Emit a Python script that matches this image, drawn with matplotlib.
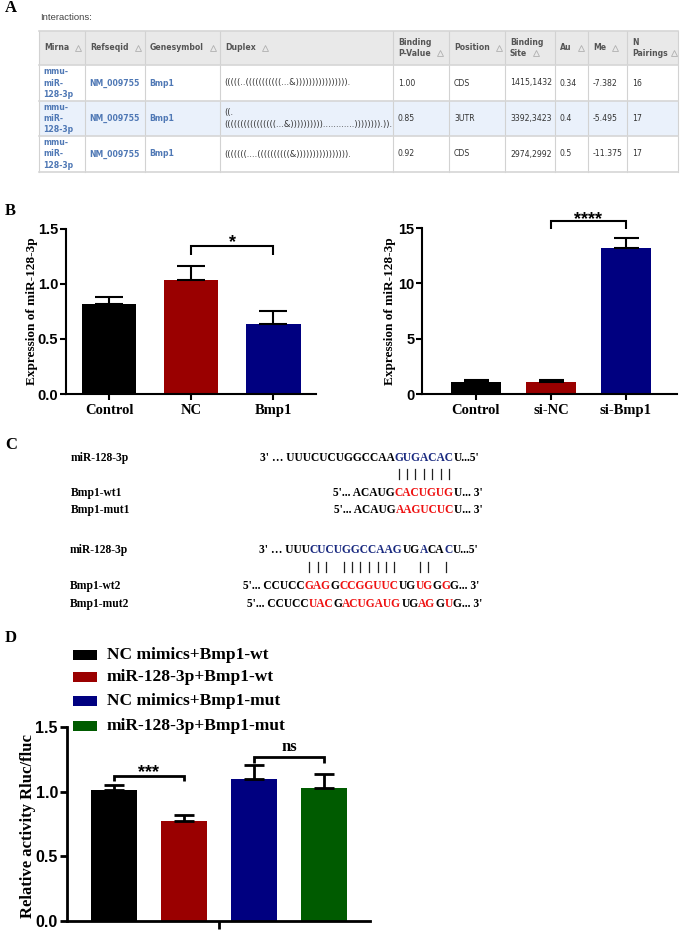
import matplotlib.pyplot as plt
import numpy as np
from matplotlib.patches import Rectangle
from matplotlib.lines import Line2D
from matplotlib.font_manager import FontProperties

W, H = 685, 930

# ---- panel A: miRWalk table
tbl_header = ['Mirna', 'Refseqid', 'Genesymbol', 'Duplex', 'Binding\nP-Value', 'Position',
              'Binding\nSite', 'Au', 'Me', 'N\nPairings']
tbl_mirna = ['mmu-\nmiR-\n128-3p'] * 3
tbl_refseq = ['NM_009755'] * 3
tbl_gene = ['Bmp1'] * 3
tbl_duplex = ['(((((..(((((((((((...&)))))))))))))))).',
              '((.\n((((((((((((((((...&))))))))))............)))))))).)).',
              '(((((((....((((((((((&)))))))))))))))).']
tbl_pval = ['1.00', '0.85', '0.92']
tbl_pos = ['CDS', '3UTR', 'CDS']
tbl_site = ['1415,1432', '3392,3423', '2974,2992']
tbl_au = ['0.34', '0.4', '0.5']
tbl_me = ['-7.382', '-5.495', '-11.375']
tbl_npair = ['16', '17', '17']

# ---- panel B: qPCR
b1_groups = ['Control', 'NC', 'Bmp1']
b1_mean = [0.82, 1.035, 0.64]
b1_err = [0.06, 0.125, 0.11]
b2_groups = ['Control', 'si-NC', 'si-Bmp1']
b2_mean = [1.11, 1.05, 13.15]
b2_err = [0.2, 0.2, 0.95]

# ---- panel D: luciferase
d_groups = ['NC mimics+Bmp1-wt', 'miR-128-3p+Bmp1-wt', 'NC mimics+Bmp1-mut', 'miR-128-3p+Bmp1-mut']
d_mean = [1.015, 0.777, 1.10, 1.03]
d_err = [0.035, 0.045, 0.105, 0.105]

colors = ['#000000', '#9a0000', '#000080', '#005b00']
seq_blue = '#1a2a80'
seq_red = '#ee1111'

fig = plt.figure(figsize=(W / 100, H / 100), dpi=100)
renderer = fig.canvas.get_renderer()


def fx(x):
    return x / W


def fy(y):
    return 1 - y / H


def ftext(x, y, s, **kw):
    return fig.text(fx(x), fy(y), s, **kw)


def fline(xs, ys, **kw):
    fig.add_artist(Line2D([fx(x) for x in xs], [fy(y) for y in ys], transform=fig.transFigure, **kw))


def frect(x0, y0, x1, y1, **kw):
    fig.add_artist(Rectangle((fx(x0), fy(y1)), (x1 - x0) / W, (y1 - y0) / H,
                             transform=fig.transFigure, **kw))


def tw(s, fp):
    w, h, d = renderer.get_text_width_height_descent(s, fp, ismath=False)
    return w


panel_fp = dict(family='Liberation Serif', weight='bold', size=12)
ftext(5, 8, 'A', va='center', **panel_fp)
ftext(5, 211, 'B', va='center', **panel_fp)
ftext(5, 445, 'C', va='center', **panel_fp)
ftext(5, 638, 'D', va='center', **panel_fp)

# ---------------- A
ftext(40, 17, 'Interactions:', va='center', family='Liberation Sans', size=6.8, color='#444444')

col_x = [39, 85, 145, 220, 393, 449, 505, 555, 588, 627, 678]
row_y = [31, 65, 101, 136, 172]
frect(col_x[0], row_y[0], col_x[-1], row_y[1], facecolor='#e9e9e9', edgecolor='none')
frect(col_x[0], row_y[2], col_x[-1], row_y[3], facecolor='#eaf1fb', edgecolor='none')
for x in col_x:
    fline([x, x], [row_y[0], row_y[-1]], color='#d2d2d2', lw=0.8)
for y in row_y:
    fline([col_x[0], col_x[-1]], [y, y], color='#d6d6d6', lw=1.2)

hdr_fp = FontProperties(family='DejaVu Sans', weight='bold', size=5.6)
body_fp = FontProperties(family='DejaVu Sans', size=5.6)
dup_fp = FontProperties(family='DejaVu Sans', size=6.0)
hdr_mid = (row_y[0] + row_y[1]) / 2
for i, h in enumerate(tbl_header):
    x = col_x[i] + 5
    ftext(x, hdr_mid, h, va='center', ha='left', fontproperties=hdr_fp, color='#555555', linespacing=1.25)
    last = h.split('\n')[-1]
    ya = hdr_mid + (5 if '\n' in h else 0)
    xa = min(x + tw(last, hdr_fp) + 9, col_x[i + 1] - 4)
    fline([xa], [ya], marker='^', markersize=4, mfc='none', mec='#b0b0b0', mew=0.6, lw=0)

columns = [tbl_mirna, tbl_refseq, tbl_gene, tbl_duplex, tbl_pval, tbl_pos, tbl_site, tbl_au, tbl_me, tbl_npair]
for c, col in enumerate(columns):
    for r, val in enumerate(col):
        yc = (row_y[r + 1] + row_y[r + 2]) / 2
        if c < 3:
            ftext(col_x[c] + 4, yc, val, va='center', fontproperties=hdr_fp, color='#4f78b5', linespacing=1.3)
        elif c == 3:
            ftext(col_x[c] + 4, yc, val, va='center', fontproperties=dup_fp, color='#333333', linespacing=1.3)
        else:
            ftext(col_x[c] + 5, yc, val, va='center', fontproperties=body_fp, color='#333333')


# ---------------- B
def panel_ax(left, top, right, bottom):
    return fig.add_axes([fx(left), fy(bottom), (right - left) / W, (bottom - top) / H])


def style(ax, lw, size):
    for s in ['top', 'right']:
        ax.spines[s].set_visible(False)
    for s in ['left', 'bottom']:
        ax.spines[s].set_linewidth(lw)
    ax.tick_params(width=lw, length=4, pad=3)
    ax.tick_params(axis='y', pad=1.5)
    for t in ax.get_yticklabels():
        t.set_fontproperties(FontProperties(family='Liberation Sans', weight='bold', size=size))


def bracket(ax, x1, x2, y, tip, lw):
    ax.plot([x1, x1, x2, x2], [y - tip, y, y, y - tip], color='k', lw=lw, clip_on=False,
            solid_capstyle='butt', solid_joinstyle='miter')


def stars(ax, x, y, s, size=13):
    ax.annotate(s, xy=(x, y), xytext=(0, -7.5), textcoords='offset points', ha='center', va='baseline',
                family='Liberation Sans', weight='bold', size=size, annotation_clip=False)


xlab_fp = dict(family='Liberation Serif', weight='bold', size=10.5)
ylab_fp = dict(family='Liberation Serif', weight='bold', size=9.5)

ax1 = panel_ax(66, 229, 316, 394)
x1 = np.arange(len(b1_groups))
ax1.bar(x1, b1_mean, width=0.66, color=colors[:3])
ax1.errorbar(x1, b1_mean, yerr=[np.zeros(3), b1_err], fmt='none', ecolor='k', elinewidth=1.5,
             capsize=10, capthick=1.5)
bracket(ax1, 1, 2, 1.345, 0.08, 1.5)
stars(ax1, 1.5, 1.43, '*')
ax1.set_xlim(-0.523, 2.517)
ax1.set_ylim(0, 1.5)
ax1.set_yticks([0, 0.5, 1.0, 1.5])
ax1.set_yticklabels(['0.0', '0.5', '1.0', '1.5'])
ax1.set_xticks(x1)
ax1.set_xticklabels(b1_groups, **xlab_fp)
ax1.set_ylabel('Expression of miR-128-3p', va='center', **ylab_fp)
ax1.yaxis.set_label_coords(-0.135, 0.5)
style(ax1, 1.5, 10.5)

ax2 = panel_ax(422, 228, 677, 394)
x2 = np.arange(len(b2_groups))
ax2.bar(x2, b2_mean, width=0.667, color=colors[:3])
ax2.errorbar(x2, b2_mean, yerr=[np.zeros(3), b2_err], fmt='none', ecolor='k', elinewidth=1.5,
             capsize=9, capthick=1.5)
bracket(ax2, 1, 2, 15.6, 0.7, 1.5)
stars(ax2, 1.5, 16.3, '****')
ax2.set_xlim(-0.72, 2.68)
ax2.set_ylim(0, 15)
ax2.set_yticks([0, 5, 10, 15])
ax2.set_xticks(x2)
ax2.set_xticklabels(b2_groups, **xlab_fp)
ax2.set_ylabel('Expression of miR-128-3p', va='center', **ylab_fp)
ax2.yaxis.set_label_coords(-0.125, 0.5)
style(ax2, 1.5, 10.5)

# ---------------- C
seq_fp = FontProperties(family='Liberation Serif', weight='bold', size=8.3)


def seq_line(x0, yc, parts):
    full = ''.join(p for p, c in parts)
    yb = yc + 3.7
    pos = 0
    for p, c in parts:
        pos += len(p)
        ftext(x0 + tw(full[:pos], seq_fp), yb, p, color=c, fontproperties=seq_fp, ha='right', va='baseline')
    return [x0 + tw(full[:i + 1], seq_fp) - tw(full[i], seq_fp) / 2 for i in range(len(full))]


def label(x, yc, s):
    ftext(x, yc + 3.7, s, fontproperties=seq_fp, va='baseline')


k = 'black'
label(71, 457, 'miR-128-3p')
seq_line(260, 457, [("3' \u2026 UUUCUCUGGCCAA", k), ('GUGACAC', seq_blue), ('U...5\'', k)])
label(71, 492, 'Bmp1-wt1')
wt1_parts = [("5'... ACAUG", k), ('CACUGUG', seq_red), ("U... 3'", k)]
cx = seq_line(333, 492, wt1_parts)
label(71, 509, 'Bmp1-mut1')
seq_line(334, 509, [("5'... ACAUG", k), ('AAGUCUC', seq_red), ("U... 3'", k)])
start = len(wt1_parts[0][0])
for i in range(start, start + 7):
    fline([cx[i], cx[i]], [469, 479], color='#222222', lw=0.9)

label(70, 549, 'miR-128-3p')
seq_line(259, 549, [("3' \u2026 UUU", k), ('CUCUGGCCAAG', seq_blue), ('UG', k), ('A', seq_blue),
                    ('CA', k), ('C', seq_blue), ("U...5'", k)])
label(70, 585, 'Bmp1-wt2')
wt2_parts = [("5'... CCUCC", k), ('GAG', seq_red), ('G', k), ('CCGGUUC', seq_red), ('UG', k),
             ('UG', seq_red), ('G', k), ('G', seq_red), ("G... 3'", k)]
cx = seq_line(243, 585, wt2_parts)
label(70, 603, 'Bmp1-mut2')
seq_line(247, 603, [("5'... CCUCC", k), ('UAC', seq_red), ('G', k), ('ACUGAUG', seq_red), ('UG', k),
                    ('AG', seq_red), ('G', k), ('U', seq_red), ("G... 3'", k)])
pos = 0
for p, c in wt2_parts:
    if c == seq_red:
        for i in range(pos, pos + len(p)):
            fline([cx[i], cx[i]], [562, 572], color='#222222', lw=0.9)
    pos += len(p)

# ---------------- D
ax3 = panel_ax(67, 727, 370, 921)
x3 = np.arange(len(d_groups))
ax3.bar(x3, d_mean, width=0.66, color=colors)
ax3.errorbar(x3, d_mean, yerr=[np.zeros(4), d_err], fmt='none', ecolor='k', elinewidth=2,
             capsize=7, capthick=2)
bracket(ax3, 0, 1, 1.123, 0.04, 2)
stars(ax3, 0.5, 1.19, '***')
bracket(ax3, 2, 3, 1.27, 0.05, 2)
ax3.text(2.5, 1.346, 'ns', ha='center', va='center', family='Liberation Serif', weight='bold', size=12)
ax3.set_xlim(-0.671, 3.657)
ax3.set_ylim(0, 1.5)
ax3.set_yticks([0, 0.5, 1.0, 1.5])
ax3.set_yticklabels(['0.0', '0.5', '1.0', '1.5'])
ax3.set_xticks([1.5])
ax3.set_xticklabels([''])
ax3.set_ylabel('Relative activity Rluc/fluc', va='center', family='Liberation Serif', weight='bold', size=12)
ax3.yaxis.set_label_coords(-0.129, 0.49)
style(ax3, 2, 11.5)
ax3.tick_params(axis='y', length=5)
ax3.tick_params(axis='x', length=6)

leg_y = [655, 677, 701, 726]
for name, col, y in zip(d_groups, colors, leg_y):
    frect(73, y - 5, 97, y + 5, facecolor=col, edgecolor='none')
    ftext(107, y, name, va='center', family='Liberation Serif', weight='bold', size=12.5)

fig.savefig('out.png', dpi=100)
